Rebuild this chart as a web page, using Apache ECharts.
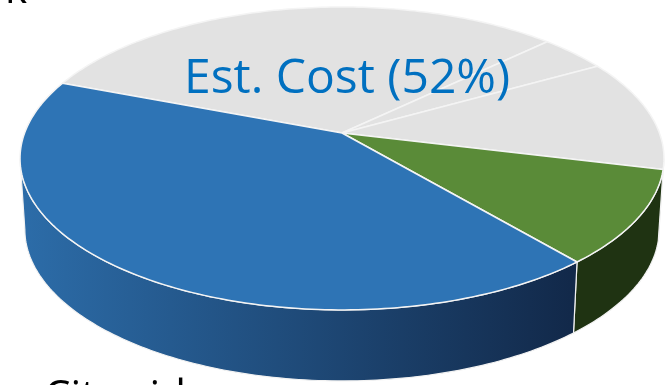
<!DOCTYPE html>
<html>
<head>
<meta charset="utf-8">
<script src="https://cdn.jsdelivr.net/npm/echarts@6/dist/echarts.min.js"></script>
<style>
  html, body { margin: 0; padding: 0; background: #ffffff; }
  #chart { width: 669px; height: 385px; }
</style>
</head>
<body>
<div id="chart"></div>
<script>
// Slice data, drawn clockwise starting from the start angle
const categories = ['Other A', 'Other B', 'Other C', 'Local', 'Citywide'];
const shares = [32, 4, 12, 10, 42];
const topColors = ['#E2E2E2', '#E2E2E2', '#E2E2E2', '#5A8B38', '#2E74B5'];
const sideColorsLeft = ['#BDBDBD', '#BDBDBD', '#BDBDBD', '#273D17', '#2C6CA8'];
const sideColorsRight = ['#A9A9A9', '#A9A9A9', '#A9A9A9', '#1F3312', '#12294A'];
const estimatedShareCategories = ['Local', 'Citywide'];
const startAngle = 159;

// Tilted-disc projection of the pie
const disc = { cx: 342, cy: 133, rx: 317.4, ry: 147.2, persp: 0.168, depth: 71, bottomScale: 0.985 };

function project(deg, bottom) {
  const t = deg * Math.PI / 180;
  const X = Math.cos(t), Y = Math.sin(t);
  const w = 1 / (1 + disc.persp * Y);
  const sx = bottom ? disc.bottomScale : 1;
  return [disc.cx + disc.rx * X * w * sx, disc.cy - disc.ry * Y * w + (bottom ? disc.depth : 0)];
}

const total = shares.reduce((a, b) => a + b, 0);
const spans = [];
let acc = startAngle;
shares.forEach(v => {
  const a0 = acc, a1 = acc - v / total * 360;
  spans.push([a0, a1]);
  acc = a1;
});

function arc(from, to, bottom) {
  const pts = [];
  const n = Math.max(2, Math.ceil(Math.abs(to - from)));
  for (let i = 0; i <= n; i++) pts.push(project(from + (to - from) * i / n, bottom));
  return pts;
}

// Front half of the rim that faces the viewer
const silhouette = Math.asin(disc.persp) * 180 / Math.PI;
const visLo = -180 + silhouette, visHi = -silhouette;

function sideRange(i) {
  const [a0, a1] = spans[i];
  for (const shift of [0, 360, -360]) {
    const lo = Math.max(a1 + shift, visLo), hi = Math.min(a0 + shift, visHi);
    if (hi > lo) return [lo, hi];
  }
  return null;
}

const estShare = categories.reduce((s, c, i) => s + (estimatedShareCategories.includes(c) ? shares[i] : 0), 0);

const chart = echarts.init(document.getElementById('chart'), null, { renderer: 'canvas' });
chart.setOption({
  animation: false,
  backgroundColor: '#ffffff',
  graphic: [
    { type: 'text', left: 184, top: 55, z: 100,
      style: { text: 'Est. Cost (' + estShare + '%)', font: '48px "Open Sans"', fill: '#0070C0' } },
    { type: 'text', left: 5, top: -30, z: 100,
      style: { text: 'k', font: '42px "Open Sans"', fill: '#000000' } },
    { type: 'text', left: 44, top: 377, z: 100,
      style: { text: 'Citywide', font: '42px "Open Sans"', fill: '#000000' } }
  ],
  series: [
    {
      type: 'custom',
      coordinateSystem: 'none',
      z: 1,
      data: shares,
      renderItem: function (params) {
        const i = params.dataIndex;
        const r = sideRange(i);
        if (!r) return;
        const pts = arc(r[0], r[1], false).concat(arc(r[1], r[0], true));
        return {
          type: 'polygon',
          shape: { points: pts },
          style: {
            fill: new echarts.graphic.LinearGradient(disc.cx - disc.rx, 0, disc.cx + disc.rx * 0.72, 0, [
              { offset: 0, color: sideColorsLeft[i] },
              { offset: 1, color: sideColorsRight[i] }
            ], true),
            stroke: '#F2F2F2',
            lineWidth: 1.2
          }
        };
      }
    },
    {
      type: 'custom',
      coordinateSystem: 'none',
      z: 2,
      data: shares,
      renderItem: function (params) {
        const i = params.dataIndex;
        const [a0, a1] = spans[i];
        const pts = [[disc.cx, disc.cy]].concat(arc(a0, a1, false));
        return {
          type: 'polygon',
          shape: { points: pts },
          style: { fill: topColors[i], stroke: '#F4F4F4', lineWidth: 1.5, lineJoin: 'round' }
        };
      }
    }
  ]
});
</script>
</body>
</html>
